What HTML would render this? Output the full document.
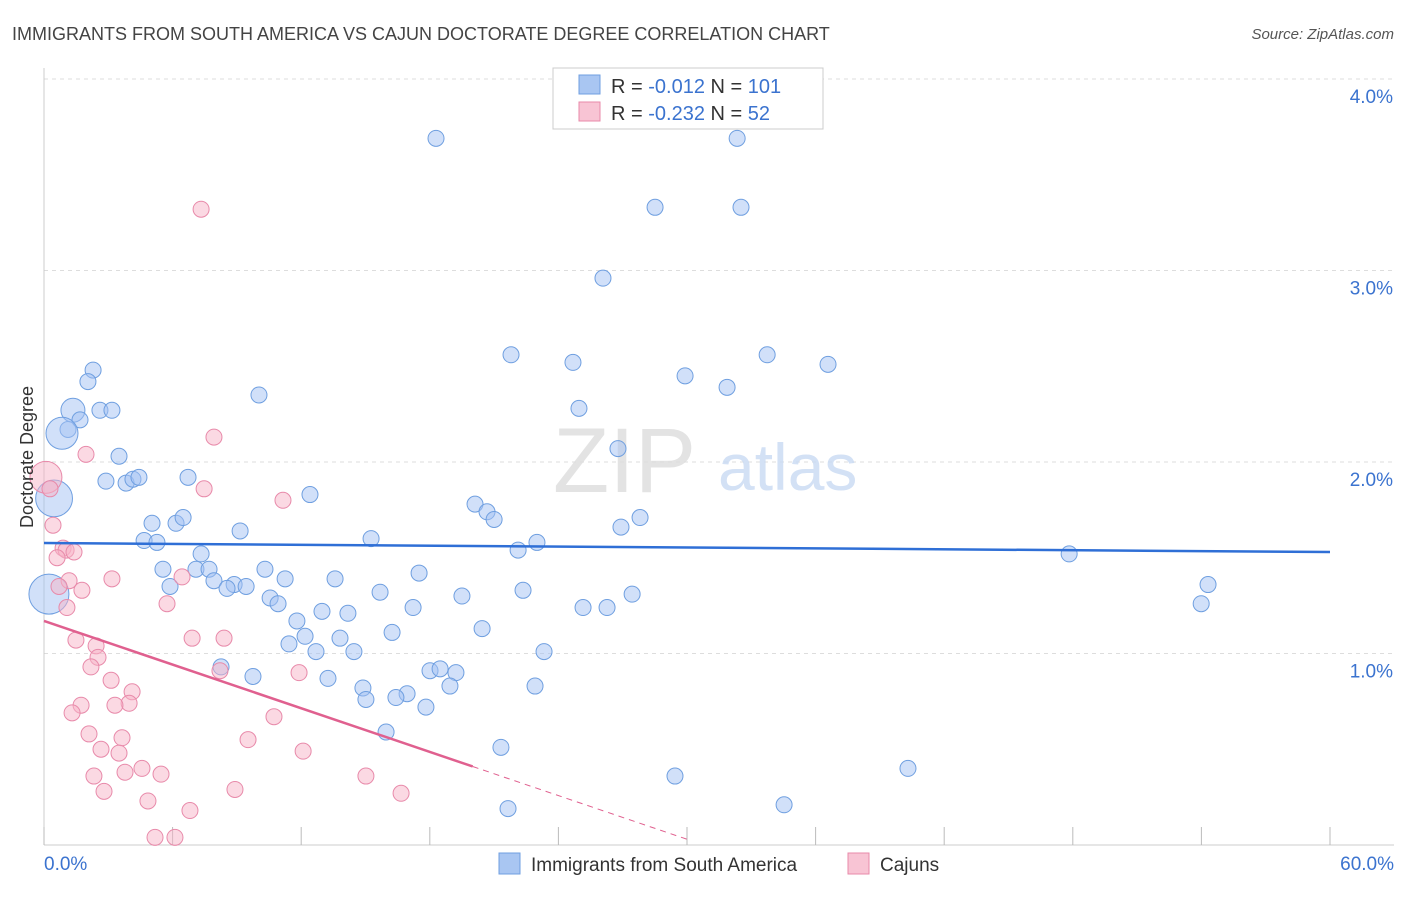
<!DOCTYPE html>
<html><head><meta charset="utf-8"><style>
body{margin:0;background:#fff;font-family:"Liberation Sans",sans-serif;}
svg text{font-family:"Liberation Sans",sans-serif;}
</style></head><body>
<svg id="chart" width="1406" height="892" viewBox="0 0 1406 892" xmlns="http://www.w3.org/2000/svg">
<text x="12" y="40" font-size="18" fill="#444">IMMIGRANTS FROM SOUTH AMERICA VS CAJUN DOCTORATE DEGREE CORRELATION CHART</text>
<text x="1394" y="39" font-size="15" fill="#555" font-style="italic" text-anchor="end">Source: ZipAtlas.com</text>
<g id="grid"></g>
<text x="553" y="492" font-size="92" fill="#ddd" font-family="Liberation Serif" opacity="0.8">ZIP</text>
<text x="718" y="490" font-size="66" fill="#c9daf3" opacity="0.8">atlas</text>
<g id="pts"></g>
<g id="trends"></g>
<text transform="translate(33,457) rotate(-90)" font-size="18" fill="#333" text-anchor="middle">Doctorate Degree</text>
<g>
<rect x="553" y="68" width="270" height="61" fill="#fff" stroke="#ccc"/>
<rect x="579" y="75" width="21" height="19" fill="#a9c6f2" stroke="#6f9fe0"/>
<rect x="579" y="102" width="21" height="19" fill="#f8c4d4" stroke="#e88aaa"/>
<text x="611" y="93" font-size="20" fill="#333">R = <tspan fill="#3b73cf">-0.012</tspan>    N = <tspan fill="#3b73cf">101</tspan></text>
<text x="611" y="120" font-size="20" fill="#333">R = <tspan fill="#3b73cf">-0.232</tspan>    N =  <tspan fill="#3b73cf"> 52</tspan></text>
</g>
<g>
<rect x="499" y="853" width="21" height="21" fill="#a9c6f2" stroke="#6f9fe0"/>
<text x="531" y="871" font-size="19" fill="#333">Immigrants from South America</text>
<rect x="848" y="853" width="21" height="21" fill="#f8c4d4" stroke="#e88aaa"/>
<text x="880" y="871" font-size="19" fill="#333">Cajuns</text>
</g>
<text x="44" y="870" font-size="19" fill="#3b73cf">0.0%</text>
<text x="1394" y="870" font-size="19" fill="#3b73cf" text-anchor="end">60.0%</text>
</svg>
<script>
const yTicks=[1,2,3,4];
const xTicks=[0,6,12,18,24,30,36,42,48,54,60];
const blueX=[18.29,32.34,28.51,32.52,26.08,21.79,24.68,29.91,31.87,33.74,36.58,2.29,2.05,10.03,1.35,2.61,3.17,1.68,1.12,0.84,24.96,26.78,3.50,2.89,3.83,4.15,4.43,6.72,12.41,0.47,20.11,20.67,21.0,27.81,26.92,5.04,6.16,6.49,9.15,4.67,5.27,15.26,22.12,23.0,47.83,7.33,5.55,7.09,7.70,10.31,7.93,11.25,13.58,17.50,8.87,5.88,8.54,9.43,15.68,54.31,10.55,10.92,22.35,19.50,27.44,12.97,14.18,17.22,25.15,26.27,53.99,0.23,11.80,20.44,16.24,11.43,12.18,13.81,12.69,14.46,23.33,8.26,9.75,13.25,18.01,18.48,19.22,14.88,18.94,22.91,16.94,16.42,15.02,17.82,15.96,21.32,29.44,40.31,21.65,34.53];
const blueY=[3.69,3.69,3.33,3.33,2.96,2.56,2.52,2.45,2.39,2.56,2.51,2.48,2.42,2.35,2.27,2.27,2.27,2.22,2.17,2.15,2.28,2.07,2.03,1.90,1.89,1.91,1.92,1.92,1.83,1.81,1.78,1.74,1.70,1.71,1.66,1.68,1.68,1.71,1.64,1.59,1.58,1.60,1.54,1.58,1.52,1.52,1.44,1.44,1.44,1.44,1.38,1.39,1.39,1.42,1.36,1.35,1.34,1.35,1.32,1.36,1.29,1.26,1.33,1.30,1.31,1.22,1.21,1.24,1.24,1.24,1.26,1.31,1.17,1.13,1.11,1.05,1.09,1.08,1.01,1.01,1.01,0.93,0.88,0.87,0.91,0.92,0.90,0.82,0.83,0.83,0.79,0.77,0.76,0.72,0.59,0.51,0.36,0.40,0.19,0.21];
const blueSize=[1,1,1,1,1,1,1,1,1,1,1,1,1,1,1.5,1,1,1,1,2,1,1,1,1,1,1,1,1,1,2.3,1,1,1,1,1,1,1,1,1,1,1,1,1,1,1,1,1,1,1,1,1,1,1,1,1,1,1,1,1,1,1,1,1,1,1,1,1,1,1,1,1,2.5,1,1,1,1,1,1,1,1,1,1,1,1,1,1,1,1,1,1,1,1,1,1,1,1,1,1,1,1];
const pinkX=[7.33,7.93,1.96,0.09,0.28,7.47,11.15,0.42,0.89,1.03,0.61,1.40,1.17,0.70,3.17,6.44,1.77,1.07,5.74,6.91,8.40,1.49,2.43,2.52,2.19,8.21,11.90,3.13,4.11,3.97,3.31,1.73,1.31,10.73,2.10,3.64,9.52,2.66,3.50,12.09,4.57,5.46,3.78,2.33,15.02,2.80,8.91,16.66,4.85,6.81,5.18,6.11];
const pinkY=[3.32,2.13,2.04,1.92,1.86,1.86,1.80,1.67,1.55,1.54,1.50,1.53,1.38,1.35,1.39,1.40,1.33,1.24,1.26,1.08,1.08,1.07,1.04,0.98,0.93,0.91,0.90,0.86,0.80,0.74,0.73,0.73,0.69,0.67,0.58,0.56,0.55,0.50,0.48,0.49,0.40,0.37,0.38,0.36,0.36,0.28,0.29,0.27,0.23,0.18,0.04,0.04];
const pinkSize=[1,1,1,2,1,1,1,1,1,1,1,1,1,1,1,1,1,1,1,1,1,1,1,1,1,1,1,1,1,1,1,1,1,1,1,1,1,1,1,1,1,1,1,1,1,1,1,1,1,1,1,1];
const blueTrend=[1.577,1.530];
const pinkTrend=[1.17,-0.038];
const NS="http://www.w3.org/2000/svg";
const X0=44,X1=1330,Y0=845,PY=191.5;
const sx=v=>X0+(X1-X0)*v/60;
const sy=v=>Y0-v*PY;
function mk(t,a,p){const e=document.createElementNS(NS,t);for(const k in a)e.setAttribute(k,a[k]);p.appendChild(e);return e;}
const grid=document.getElementById('grid');
yTicks.forEach(t=>{
 const l=mk('line',{x1:X0,x2:1394,y1:sy(t),y2:sy(t),stroke:'#ddd','stroke-dasharray':'4,4'},grid);
 
 
 const tx=mk('text',{x:1393,y:sy(t)+24,'font-size':19,fill:'#3b73cf','text-anchor':'end'},grid);
 tx.textContent=t.toFixed(1)+'%';
 
 
});
const ax=mk('line',{x1:X0,x2:X0,y1:68,y2:Y0,stroke:'#ccc'},grid);


const bx=mk('line',{x1:X0,x2:1394,y1:Y0,y2:Y0,stroke:'#ccc'},grid);


xTicks.forEach(t=>{
 const l=mk('line',{x1:sx(t),x2:sx(t),y1:Y0,y2:827,stroke:'#bbb'},grid);
 
 
});
const pts=document.getElementById('pts');
function draw(xs,ys,ss,fill,stroke,name){
 xs.forEach((x,i)=>{
  const c=mk('circle',{cx:sx(x),cy:sy(ys[i]),r:8*ss[i],fill:fill,stroke:stroke,'stroke-width':1},pts);
  
  
 });
}
draw(blueX,blueY,blueSize,'rgba(164,194,244,0.5)','#6f9fe0','south-america-point');
draw(pinkX,pinkY,pinkSize,'rgba(248,180,200,0.5)','#e88aaa','cajun-point');
const tr=document.getElementById('trends');
const b=mk('line',{x1:sx(0),y1:sy(blueTrend[0]),x2:sx(60),y2:sy(blueTrend[1]),stroke:'#2f6fd6','stroke-width':2.5},tr);


const pv=x=>pinkTrend[0]+pinkTrend[1]*x;
const p1=mk('line',{x1:sx(0),y1:sy(pv(0)),x2:sx(20),y2:sy(pv(20)),stroke:'#e0608f','stroke-width':2.5},tr);


const p2=mk('line',{x1:sx(20),y1:sy(pv(20)),x2:sx(30),y2:sy(pv(30)),stroke:'#e0608f','stroke-width':1,'stroke-dasharray':'6,5'},tr);


</script>
</body></html>
